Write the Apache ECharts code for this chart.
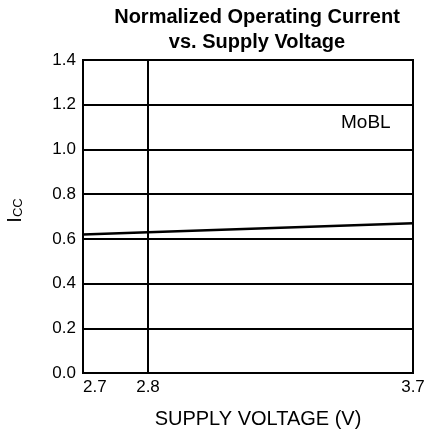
<!DOCTYPE html>
<html>
<head>
<meta charset="utf-8">
<script src="https://cdn.jsdelivr.net/npm/echarts@6/dist/echarts.min.js"></script>
<style>
    html, body {margin: 0; padding: 0; background: #fff;}
    #chart {width: 428px; height: 431px;}
</style>
</head>
<body>
<div id="chart"></div>
<script>
// supply voltage (V) and normalized Icc
var voltage = [2.7, 2.8, 3.7];
var icc = [0.62, 0.63, 0.67];
// the x scale is split at 2.8 V: a short 2.7-2.8 part and a long 2.8-3.7 part
var xBreak = 2.8;
var xMin = 2.7;
var xMax = 3.7;
var yTicks = [0, 0.2, 0.4, 0.6, 0.8, 1.0, 1.2, 1.4];

var font = 'Liberation Sans, Arial, sans-serif';

drawChart();

function drawChart() {
    var myChart = echarts.init(document.getElementById('chart'));
    var points = voltage.map(function (v, i) {
        return [v, icc[i]];
    });
    var leftPart = points.filter(function (p) {
        return p[0] <= xBreak;
    });
    var rightPart = points.filter(function (p) {
        return p[0] >= xBreak;
    });

    function xAxis(gridIndex, min, max, extra) {
        var axis = {
            type: 'value',
            gridIndex: gridIndex,
            min: min,
            max: max,
            interval: max - min,
            axisLine: {lineStyle: {color: '#000', width: 2}},
            axisTick: {show: false},
            splitLine: {show: false},
            axisLabel: {
                fontFamily: font,
                fontSize: 17,
                color: '#000',
                margin: 6,
                formatter: function (v) {
                    return v.toFixed(1);
                }
            }
        };
        for (var k in extra) axis[k] = extra[k];
        return axis;
    }

    function yAxis(gridIndex, showLabel) {
        return {
            type: 'value',
            gridIndex: gridIndex,
            min: yTicks[0],
            max: yTicks[yTicks.length - 1],
            interval: 0.2,
            axisLine: {lineStyle: {color: '#000', width: 2}},
            axisTick: {show: false},
            splitLine: {lineStyle: {color: '#000', width: 2}},
            axisLabel: {
                show: showLabel,
                fontFamily: font,
                fontSize: 17,
                color: '#000',
                margin: 7,
                formatter: function (v) {
                    return v.toFixed(1);
                }
            }
        };
    }

    var leftX = xAxis(0, xMin, xBreak, {});
    leftX.axisLabel.alignMinLabel = 'left';

    var rightX = xAxis(1, xBreak, xMax, {
        name: 'SUPPLY VOLTAGE (V)',
        nameLocation: 'middle',
        nameGap: 36,
        nameTextStyle: {fontFamily: font, fontSize: 20, color: '#000', padding: [0, 45, 0, 0]}
    });
    rightX.axisLabel.showMinLabel = false;
    rightX.axisLabel.formatter = function (v) {
        return '{hi|' + v.toFixed(1) + '}';
    };
    rightX.axisLabel.rich = {hi: {fontFamily: font, fontSize: 17, color: '#000', padding: [0, 0, 10, 0]}};

    var leftY = yAxis(0, true);
    leftY.name = '{i|I}{s|CC}';
    leftY.nameLocation = 'middle';
    leftY.nameRotate = 90;
    leftY.nameGap = 58;
    leftY.nameTextStyle = {
        padding: [0, 0, 0, 12],
        rich: {
            i: {fontFamily: font, fontSize: 20, color: '#000'},
            s: {fontFamily: font, fontSize: 13, color: '#000', verticalAlign: 'bottom', padding: [6, 0, 0, 0]}
        }
    };

    var option = {
        animation: false,
        title: {
            text: 'Normalized Operating Current\nvs. Supply Voltage',
            left: 252,
            textAlign: 'center',
            top: 0,
            textStyle: {
                fontFamily: font,
                fontSize: 20,
                fontWeight: 'bold',
                lineHeight: 25,
                color: '#000'
            }
        },
        grid: [
            {left: 83, width: 65, top: 60, bottom: 58, outerBoundsMode: 'none', show: true, borderColor: '#000', borderWidth: 2},
            {left: 148, right: 15, top: 60, bottom: 58, outerBoundsMode: 'none', show: true, borderColor: '#000', borderWidth: 2}
        ],
        xAxis: [leftX, rightX],
        yAxis: [leftY, yAxis(1, false)],
        graphic: [{
            type: 'text',
            left: 341,
            top: 113,
            style: {text: 'MoBL', fontFamily: font, fontSize: 19, fill: '#000'}
        }],
        series: [{
            type: 'line',
            xAxisIndex: 0,
            yAxisIndex: 0,
            data: leftPart,
            showSymbol: false,
            lineStyle: {color: '#000', width: 2.5}
        }, {
            type: 'line',
            xAxisIndex: 1,
            yAxisIndex: 1,
            data: rightPart,
            showSymbol: false,
            lineStyle: {color: '#000', width: 2.5}
        }]
    };

    myChart.setOption(option);
}
</script>
</body>
</html>
